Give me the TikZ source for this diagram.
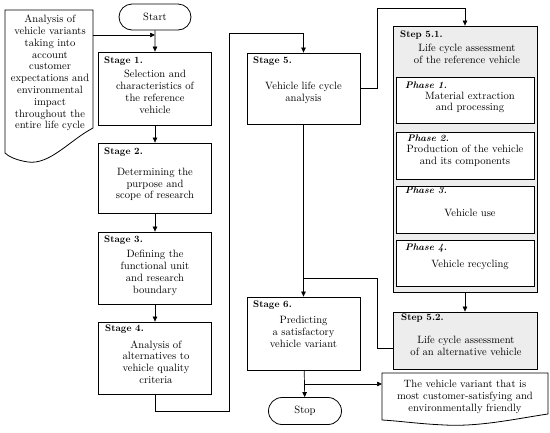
\documentclass[tikz,border=0pt]{standalone}
\usetikzlibrary{arrows.meta,shapes.misc}
\begin{document}
\begin{tikzpicture}[x=1pt,y=-1pt,
  box/.style={draw, line width=0.8pt, inner sep=0pt, minimum width=113pt},
  grbox/.style={draw, line width=0.8pt, inner sep=0pt, fill=black!7},
  phbox/.style={draw, line width=1pt, inner sep=0pt, fill=white, minimum width=138pt},
  term/.style={draw, line width=0.8pt, rounded rectangle, inner sep=0pt, minimum width=72pt, minimum height=26pt, font=\fontsize{10.6}{11.7}\selectfont},
  txt/.style={align=center, inner sep=0pt, font=\fontsize{10.6}{11.8}\selectfont},
  lab/.style={anchor=west, inner sep=0pt, font=\fontsize{9.6}{11.7}\selectfont\bfseries},
  plab/.style={anchor=west, inner sep=0pt, font=\fontsize{9.6}{11.7}\selectfont\bfseries\itshape},
  arr/.style={-{Triangle[length=5pt,width=4.5pt]}, line width=0.7pt},
  ln/.style={line width=0.7pt}]
\useasboundingbox (0,0) rectangle (550,432);

% terminals
\node[term] (start) at (155,17) {Start};
\node[term, minimum width=73pt, minimum height=27pt] (stop) at (305,411) {Stop};

% left document
\draw[line width=0.8pt] (5,10) -- (93,10) -- (93,128) .. controls (70,140) and (50,165) .. (28,162) .. controls (15,160) and (8,156) .. (5,153) -- cycle;
\coordinate (docLr) at (93,35);
\node[txt] (docLt) at (50,73) {Analysis of\\vehicle variants\\taking into\\account\\customer\\expectations and\\environmental\\impact\\throughout the\\entire life cycle};

% stages column 1
\node[box, minimum height=73pt] (s1) at (155,88.5) {};
\node[lab] (s1l) at (104,61) {Stage 1.};
\node[txt] (s1t) at (155,92) {Selection and\\characteristics of\\the reference\\vehicle};

\node[box, minimum height=70pt] (s2) at (155,178) {};
\node[lab] (s2l) at (104,152) {Stage 2.};
\node[txt] (s2t) at (155,184.5) {Determining the\\purpose and\\scope of research};

\node[box, minimum height=72pt] (s3) at (155,268) {};
\node[lab] (s3l) at (104,240) {Stage 3.};
\node[txt] (s3t) at (155,273) {Defining the\\functional unit\\and research\\boundary};

\node[box, minimum height=72pt] (s4) at (155,358) {};
\node[lab] (s4l) at (105,329) {Stage 4.};
\node[txt] (s4t) at (156,362) {Analysis of\\alternatives to\\vehicle quality\\criteria};

% stages column 2
\node[box, minimum height=71pt] (s5) at (303.5,88.5) {};
\node[lab] (s5l) at (253,61) {Stage 5.};
\node[txt] (s5t) at (303.5,93) {Vehicle life cycle\\analysis};

\node[box, minimum height=73pt] (s6) at (303.5,333.5) {};
\node[lab] (s6l) at (253,305) {Stage 6.};
\node[txt] (s6t) at (303.5,332) {Predicting\\a satisfactory\\vehicle variant};

% step 5.1
\node[grbox, minimum width=144pt, minimum height=266pt] (st1) at (465,159) {};
\node[lab] (st1l) at (400,35) {Step 5.1.};
\node[txt] (st1t) at (467,54) {Life cycle assessment\\of the reference vehicle};

\node[phbox, minimum height=46pt] (p1) at (465,100) {};
\node[plab] (p1l) at (405,85) {Phase 1.};
\node[txt] (p1t) at (470,102.5) {Material extraction\\and processing};

\node[phbox, minimum height=47pt] (p2) at (465,155.5) {};
\node[plab] (p2l) at (407,138) {Phase 2.};
\node[txt] (p2t) at (465,156) {Production of the vehicle\\and its components};

\node[phbox, minimum height=47pt] (p3) at (465,209.5) {};
\node[plab] (p3l) at (405,190) {Phase 3.};
\node[txt] (p3t) at (470,213) {Vehicle use};

\node[phbox, minimum height=46pt] (p4) at (465,263) {};
\node[plab] (p4l) at (405,248) {Phase 4.};
\node[txt] (p4t) at (470,265) {Vehicle recycling};

% step 5.2
\node[grbox, minimum width=144pt, minimum height=57pt] (st2) at (465,340.5) {};
\node[lab] (st2l) at (401,318) {Step 5.2.};
\node[txt] (st2t) at (466,346) {Life cycle assessment\\of an alternative vehicle};

% bottom document
\draw[line width=0.8pt] (382,373) -- (548,373) -- (548,414) .. controls (520,418) and (480,427) .. (445,425) .. controls (420,424) and (400,421) .. (382,420) -- cycle;
\coordinate (docBl) at (382,384);
\node[txt] (docBt) at (465,397) {The vehicle variant that is\\most customer-satisfying and\\environmentally friendly};

% connectors
\coordinate (j1) at (155,35);
\draw[arr] (docLr) -- (j1);
\draw[arr] (start) -- (s1);
\draw[arr] (s1) -- (s2);
\draw[arr] (s2) -- (s3);
\draw[arr] (s3) -- (s4);
\draw[arr] (s4.south) -- (155,411) -- (229,411) -- (229,33) -- (303.5,33) -- (s5.north);
\draw[arr] (s5.east) -- (377,88.5) -- (377,8) -- (465,8) -- (st1.north);
\draw[arr] (s5) -- (s6);
\coordinate (j2) at (303.5,278);
\draw[ln] (st2.west |- 0,348) -- (377,348) -- (377,278) -- (j2);
\draw[arr] (st1) -- (st2);
\draw[arr] (s6) -- (stop);
\coordinate (j3) at (303.5,384);
\draw[arr] (j3) -- (docBl);
\end{tikzpicture}
\end{document}
